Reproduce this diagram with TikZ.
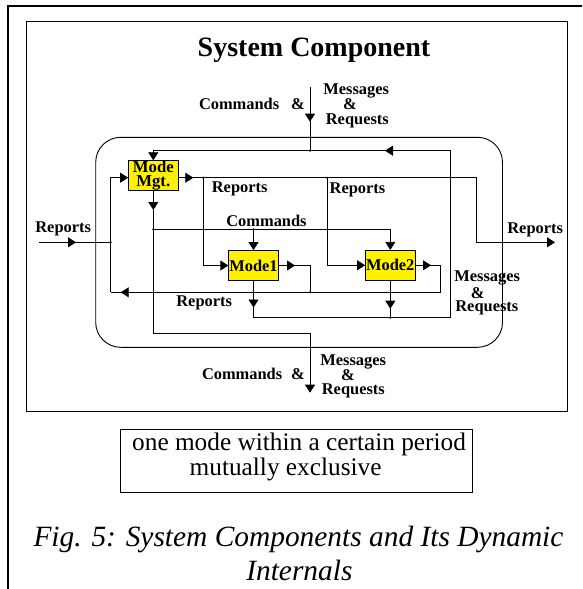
\documentclass[tikz,border=0pt]{standalone}
\usepackage{fontspec}
\setmainfont{Liberation Serif}
\usetikzlibrary{arrows.meta}
\newcommand\atipR[1]{\draw[tip] ([xshift=-2pt]#1) -- (#1);}
\newcommand\atipL[1]{\draw[tip] ([xshift=2pt]#1) -- (#1);}
\newcommand\atipD[1]{\draw[tip] ([yshift=2pt]#1) -- (#1);}
\begin{document}
\begin{tikzpicture}[x=1pt,y=-1pt,line width=0.8pt,
  tip/.style={-{Triangle[length=8pt,width=10pt]}},
  lbl/.style={font=\fontsize{16.4}{15}\selectfont\bfseries,inner sep=0pt},
  modebox/.style={draw,fill=yellow,line width=0.8pt,minimum width=49.5pt,minimum height=30pt,inner sep=0pt,font=\fontsize{16.4}{14.4}\selectfont\bfseries},
  jdot/.style={fill,circle,inner sep=0pt,minimum size=2.4pt}]
\useasboundingbox (0,0) rectangle (582,589);
% frames
\draw[line width=2.4pt,line join=miter] (8,589) -- (8,6) -- (582,6);
\draw[line width=0.9pt] (26,21.7) rectangle (567.5,411.7);
\draw[line width=0.9pt,rounded corners=25pt] (95.7,137.3) rectangle (502.5,347.3);
% title
\node[font=\fontsize{28}{30}\selectfont\bfseries,inner sep=0pt,anchor=base] (title) at (314,56) {System Component};
% boxes
\node[modebox,align=center,font=\fontsize{16.7}{14.4}\selectfont\bfseries] (mm) at (153.3,175.7) {Mode\\Mgt.};
\node[modebox] (m1) at (253.5,265.5) {Mode1};
\node[modebox] (m2) at (390.3,265.3) {Mode2};
% coordinates
\coordinate (tin) at (310,87.3);
\coordinate (tj) at (310,150.7);
\coordinate (tr) at (450,150.7);
\coordinate (br) at (450,317.7);
\coordinate (b1) at (253.5,317.7);
\coordinate (b2) at (390.3,317.7);
\coordinate (r1) at (203.3,177.7);
\coordinate (r2) at (327,177.7);
\coordinate (r3) at (476.7,177.7);
\coordinate (r4) at (476.7,242.3);
\coordinate (rout) at (555,242.3);
\coordinate (lin) at (39.3,242.3);
\coordinate (lj) at (110.7,242.3);
\coordinate (lt) at (110.7,177.7);
\coordinate (fbL) at (110.7,292.3);
\coordinate (cj) at (153.3,229.3);
\coordinate (c1) at (253.5,229.3);
\coordinate (o1) at (310,265.5);
\coordinate (o1b) at (310,292.3);
\coordinate (o2) at (440.7,265.3);
\coordinate (o2b) at (440.7,292.3);
\coordinate (d1) at (153.3,333.5);
\coordinate (d2) at (310,333.5);
\coordinate (dout) at (310,392.7);
% connectors
\draw (tin) -- (tj);
\atipD{310,121.7}
\draw[tip] (b1) -- (br) -- (tr) -- (mm.north |- tr) -- (mm.north);
\atipL{385,150.7}
\draw[tip] (mm.east |- r1) -- (r3) -- (r4) -- (rout);
\atipR{193.3,177.7}
\draw (lin) -- (lj);
\atipR{76,242.3}
\draw[tip] (fbL) -- (lt) -- (mm.west |- lt);
\draw[tip] (r1) -- (r1 |- m1) -- (m1.west);
\draw[tip] (r2) -- (r2 |- m2) -- (m2.west);
\draw[tip] (cj) -- (m2.north |- cj) -- (m2.north);
\draw[tip] (c1) -- (m1.north);
\draw (m1.east) -- (o1) -- (o1b);
\atipR{295,265.5}
\draw (m2.east) -- (o2) -- (o2b) -- (fbL);
\atipR{431,265.3}
\atipL{120.7,292.3}
\draw (m1.south) -- (b1);
\atipD{253.5,307.5}
\draw (m2.south) -- (b2);
\atipD{390.3,308.7}
\draw[tip] (mm.south) -- (d1) -- (d2) -- (dout);
\atipD{153.3,210}
% junction dots
\foreach \p in {tj,r1,r2,cj,c1,lj,o1b,b2}{\node[jdot] at (\p) {};}
% labels
\node[lbl,anchor=base west] (ltop1) at (198.6,109) {Commands\hspace{12pt}\&};
\node[lbl,anchor=base west] (ltop2) at (323,94.3) {Messages};
\node[lbl,anchor=base] (ltop3) at (350,109) {\&};
\node[lbl,anchor=base west] (ltop4) at (325.5,124) {Requests};
\node[lbl,anchor=base west] (lrep1) at (211.5,192.7) {Reports};
\node[lbl,anchor=base west] (lrep2) at (329.3,193.3) {Reports};
\node[lbl,anchor=base west] (lcmd) at (226,226.7) {Commands};
\node[lbl,anchor=base west] (lrepl) at (35,232.7) {Reports};
\node[lbl,anchor=base west] (lrepr) at (507,233.3) {Reports};
\node[lbl,anchor=base west] (lmr1) at (454,281.7) {Messages};
\node[lbl,anchor=base] (lmr2) at (477.7,298) {\&};
\node[lbl,anchor=base west] (lmr3) at (455,311.7) {Requests};
\node[lbl,anchor=base west] (lrep3) at (176,306) {Reports};
\node[lbl,anchor=base west] (lbot1) at (201.6,379.3) {Commands\hspace{9pt}\&};
\node[lbl,anchor=base west] (lbot2) at (320,365) {Messages};
\node[lbl,anchor=base] (lbot3) at (348,380) {\&};
\node[lbl,anchor=base west] (lbot4) at (321.5,394) {Requests};
% note box
\draw[line width=0.9pt] (120.6,429.3) rectangle (472.5,492.7);
\node[font=\fontsize{25.3}{26}\selectfont,inner sep=0pt,anchor=base west] (note1) at (131.8,450.7) {one mode within a certain period};
\node[font=\fontsize{25.3}{26}\selectfont,inner sep=0pt,anchor=base west] (note2) at (189.3,475) {mutually exclusive};
% caption
\node[font=\fontsize{29.4}{33}\selectfont\itshape,inner sep=0pt,anchor=base] (cap1) at (298.5,546.7) {Fig. 5: System Components and Its Dynamic};
\node[font=\fontsize{29.4}{33}\selectfont\itshape,inner sep=0pt,anchor=base] (cap2) at (299.4,580) {Internals};
\end{tikzpicture}
\end{document}
